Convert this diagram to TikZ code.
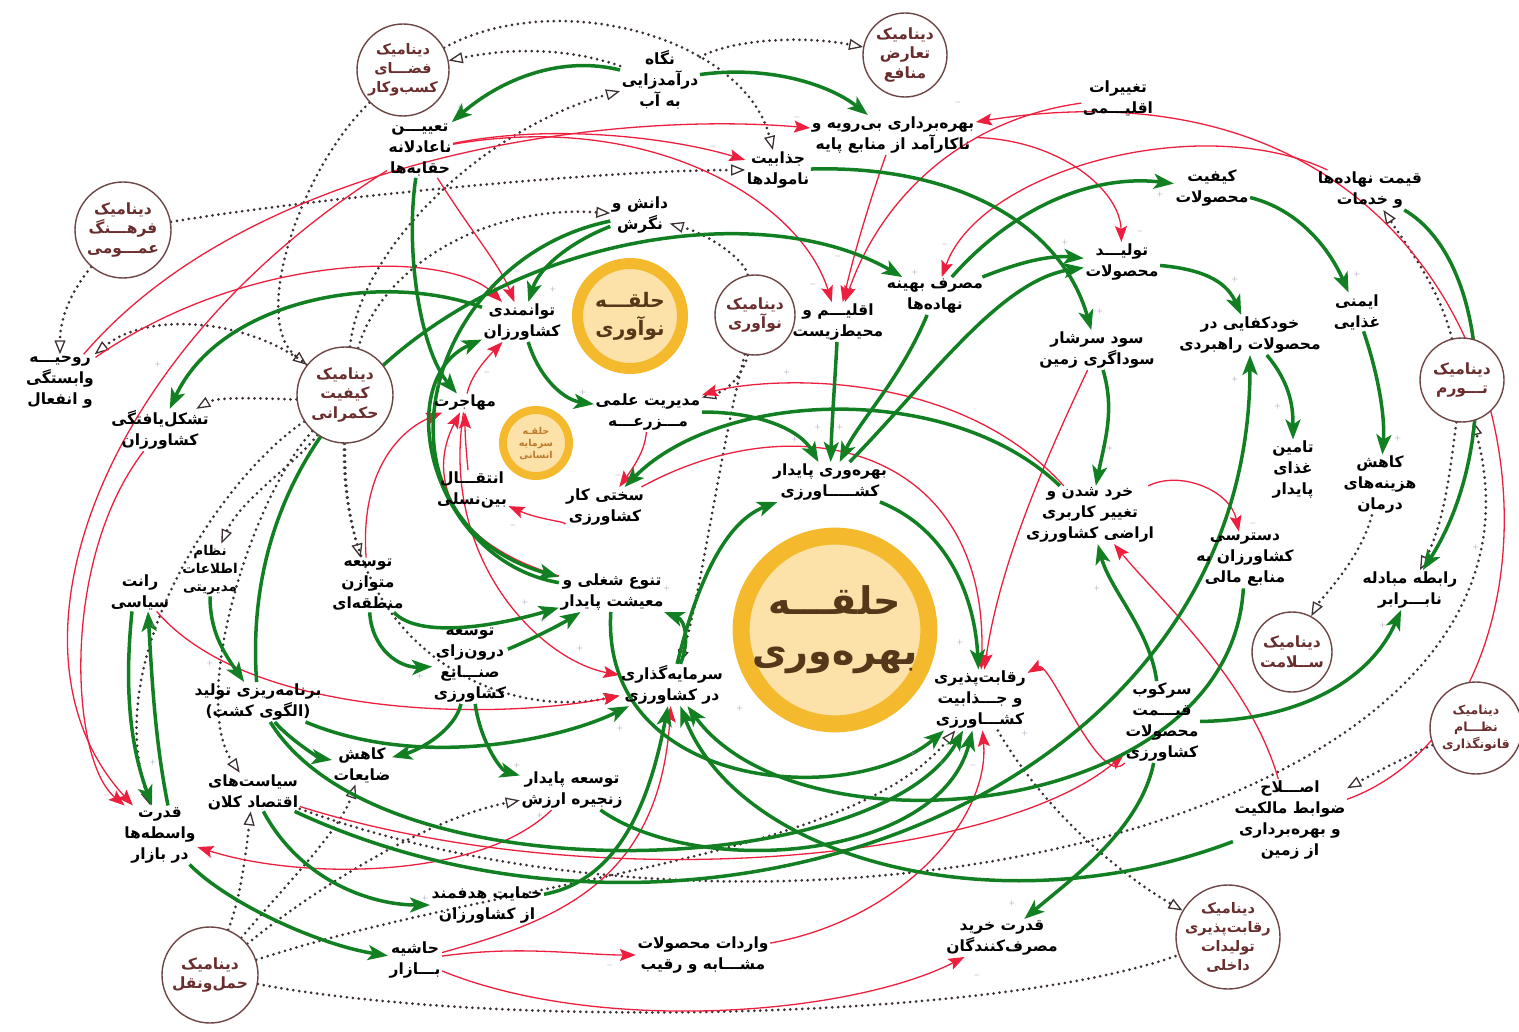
\documentclass[tikz,border=0pt]{standalone}
\usepackage{fontspec}
\usetikzlibrary{arrows.meta}
\TeXXeTstate=1
\newfontfamily\fa[Script=Arabic]{DejaVu Sans}
\newcommand\fl[1]{\beginR #1\endR}
\definecolor{grn}{RGB}{18,128,34}
\definecolor{rdc}{RGB}{236,32,62}
\definecolor{dotc}{RGB}{60,48,48}
\definecolor{dynb}{RGB}{110,70,70}
\definecolor{dyntext}{RGB}{105,45,45}
\definecolor{ringc}{RGB}{245,185,45}
\definecolor{ringf}{RGB}{252,226,168}
\definecolor{ringt}{RGB}{85,55,25}
\definecolor{ringt2}{RGB}{190,120,40}
\definecolor{pmc}{RGB}{140,140,165}
\pgfdeclarelayer{bg}
\pgfsetlayers{bg,main}
\tikzset{
  v/.style={font=\fa\bfseries\fontsize{15.5}{21}\selectfont, align=center, inner sep=1.5pt, text=black},
  dyn/.style={circle, draw=dynb, line width=1.4pt, fill=white, align=center, inner sep=-3pt,
    font=\fa\bfseries\fontsize{15.5}{19.5}\selectfont, text=dyntext},
  ring/.style={circle, draw=ringc, fill=ringf, align=center, inner sep=0pt, text=ringt},
  pm/.style={font=\fontsize{8}{8}\selectfont, text=pmc, inner sep=0pt},
  gr/.style={draw=grn, line width=3.5pt, -{Stealth[length=20pt,width=15pt,inset=5pt]}},
  rd/.style={draw=rdc, line width=1.3pt, -{Stealth[length=16pt,width=12pt,inset=3pt]}},
  dt/.style={draw=dotc, line width=3pt, dash pattern=on 0pt off 6pt, line cap=round,
    -{Triangle[open,length=14pt,width=11pt,line width=1.3pt]}}
}
\begin{document}
\begin{tikzpicture}[x=1pt,y=-1pt]
\useasboundingbox (0,0) rectangle (1519,1032);
% ---------- rings
\node[ring, minimum size=105pt, line width=11pt, font=\fa\bfseries\fontsize{20}{28}\selectfont] (r1) at (630,316) {\fl{حلقـــه}\\\fl{نوآوری}};
\node[ring, minimum size=66pt, line width=8pt, font=\fa\bfseries\fontsize{9.5}{12}\selectfont, text=ringt2] (r2) at (536,443) {\fl{حلقـه}\\\fl{سرمایه}\\\fl{انسانی}};
\node[ring, minimum size=183pt, line width=17pt, font=\fa\bfseries\fontsize{38}{50}\selectfont] (r3) at (835,630) {\fl{حلقـــه}\\\fl{بهره‌وری}};
% ---------- dynamics
\node[dyn, minimum size=92pt, font=\fa\bfseries\fontsize{14.5}{19}\selectfont] (d1) at (403,70) {\fl{دینامیک}\\\fl{فضـــای}\\\fl{کسب‌وکار}};
\node[dyn, minimum size=84pt] (d2) at (905,55) {\fl{دینامیک}\\\fl{تعارض}\\\fl{منافع}};
\node[dyn, minimum size=96pt] (d3) at (123,230) {\fl{دینامیک}\\\fl{فرهـــنگ}\\\fl{عمـــومی}};
\node[dyn, minimum size=80pt] (d4) at (755,315) {\fl{دینامیک}\\\fl{نوآوری}};
\node[dyn, minimum size=96pt] (d5) at (345,395) {\fl{دینامیک}\\\fl{کیفیت}\\\fl{حکمرانی}};
\node[dyn, minimum size=84pt] (d6) at (1462,380) {\fl{دینامیک}\\\fl{تـــورم}};
\node[dyn, minimum size=80pt] (d7) at (1292,652) {\fl{دینامیک}\\\fl{ســلامت}};
\node[dyn, minimum size=92pt, font=\fa\bfseries\fontsize{12.5}{17}\selectfont] (d8) at (1476,728) {\fl{دینامیک}\\\fl{نظـــام}\\\fl{قانونگذاری}};
\node[dyn, minimum size=104pt, font=\fa\bfseries\fontsize{14.5}{19}\selectfont] (d9) at (1228,937) {\fl{دینامیک}\\\fl{رقابت‌پذیری}\\\fl{تولیدات}\\\fl{داخلی}};
\node[dyn, minimum size=96pt] (d10) at (210,975) {\fl{دینامیک}\\\fl{حمل‌ونقل}};
% ---------- variables
\node[v] (nagah) at (660,80) {\fl{نگاه}\\\fl{درآمدزایی}\\\fl{به آب}};
\node[v] (taeen) at (420,150) {\fl{تعییـــن}\\\fl{ناعادلانه}\\\fl{حقابه‌ها}};
\node[v] (bahre) at (893,135) {\fl{بهره‌برداری بی‌رویه و}\\\fl{ناکارآمد از منابع پایه}};
\node[v] (taghir) at (1118,98) {\fl{تغییرات}\\\fl{اقلیـــمی}};
\node[v] (jazab) at (778,170) {\fl{جذابیت}\\\fl{نامولدها}};
\node[v] (keyf) at (1212,188) {\fl{کیفیت}\\\fl{محصولات}};
\node[v] (gheim) at (1370,190) {\fl{قیمت نهاده‌ها}\\\fl{و خدمات}};
\node[v] (danesh) at (640,215) {\fl{دانش و}\\\fl{نگرش}};
\node[v] (tolid) at (1122,262) {\fl{تولیـــد}\\\fl{محصولات}};
\node[v] (masraf) at (935,296) {\fl{مصرف بهینه}\\\fl{نهاده‌ها}};
\node[v] (eghlim) at (838,322) {\fl{اقلیـــم و}\\\fl{محیط‌زیست}};
\node[v] (tavan) at (522,322) {\fl{توانمندی}\\\fl{کشاورزان}};
\node[v] (imeni) at (1357,312) {\fl{ایمنی}\\\fl{غذایی}};
\node[v] (khod) at (1250,335) {\fl{خودکفایی در}\\\fl{محصولات راهبردی}};
\node[v] (sood) at (1097,350) {\fl{سود سرشار}\\\fl{سوداگری زمین}};
\node[v] (roohie) at (60,382) {\fl{روحیـــه}\\\fl{وابستگی}\\\fl{و انفعال}};
\node[v] (mohaj) at (465,403) {\fl{مهاجرت}};
\node[v] (modir) at (648,412) {\fl{مدیریت علمی}\\\fl{مـــزرعـــه}};
\node[v] (tashak) at (160,430) {\fl{تشکل‌یافتگی}\\\fl{کشاورزان}};
\node[v] (bahrev) at (830,482) {\fl{بهره‌وری پایدار}\\\fl{کشـــــاورزی}};
\node[v] (entegh) at (472,490) {\fl{انتقـــال}\\\fl{بین‌نسلی}};
\node[v] (sakhti) at (605,507) {\fl{سختی کار}\\\fl{کشاورزی}};
\node[v] (khord) at (1090,515) {\fl{خرد شدن و}\\\fl{تغییر کاربری}\\\fl{اراضی کشاورزی}};
\node[v] (tamin) at (1293,470) {\fl{تامین}\\\fl{غذای}\\\fl{پایدار}};
\node[v] (darman) at (1380,485) {\fl{کاهش}\\\fl{هزینه‌های}\\\fl{درمان}};
\node[v] (dastr) at (1245,560) {\fl{دسترسی}\\\fl{کشاورزان به}\\\fl{منابع مالی}};
\node[v] (rabete) at (1410,590) {\fl{رابطه مبادله}\\\fl{نابـــرابر}};
\node[v, font=\fa\bfseries\fontsize{13.5}{18}\selectfont] (nezam) at (210,570) {\fl{نظام}\\\fl{اطلاعات}\\\fl{مدیریتی}};
\node[v] (rant) at (140,592) {\fl{رانت}\\\fl{سیاسی}};
\node[v] (motav) at (368,585) {\fl{توسعه}\\\fl{متوازن}\\\fl{منطقه‌ای}};
\node[v] (tanavo) at (612,592) {\fl{تنوع شغلی و}\\\fl{معیشت پایدار}};
\node[v] (daroon) at (470,665) {\fl{توسعه}\\\fl{درون‌زای}\\\fl{صنـــایع}\\\fl{کشاورزی}};
\node[v] (barname) at (258,702) {\fl{برنامه‌ریزی تولید}\\\fl{(الگوی کشت)}};
\node[v] (sarmaye) at (672,685) {\fl{سرمایه‌گذاری}\\\fl{در کشاورزی}};
\node[v] (reghab) at (980,700) {\fl{رقابت‌پذیری}\\\fl{و جـــذابیت}\\\fl{کشـــاورزی}};
\node[v] (sarkoob) at (1162,722) {\fl{سرکوب}\\\fl{قیـــمت}\\\fl{محصولات}\\\fl{کشاورزی}};
\node[v] (zayeat) at (362,765) {\fl{کاهش}\\\fl{ضایعات}};
\node[v] (siasat) at (253,792) {\fl{سیاست‌های}\\\fl{اقتصاد کلان}};
\node[v] (zanjire) at (572,790) {\fl{توسعه پایدار}\\\fl{زنجیره ارزش}};
\node[v] (vaseteh) at (160,835) {\fl{قدرت}\\\fl{واسطه‌ها}\\\fl{در بازار}};
\node[v] (eslah) at (1290,820) {\fl{اصـــلاح}\\\fl{ضوابط مالکیت}\\\fl{و بهره‌برداری}\\\fl{از زمین}};
\node[v] (hemayat) at (487,905) {\fl{حمایت هدفمند}\\\fl{از کشاورزان}};
\node[v] (varedat) at (703,955) {\fl{واردات محصولات}\\\fl{مشـــابه و رقیب}};
\node[v] (kharid) at (1002,938) {\fl{قدرت خرید}\\\fl{مصرف‌کنندگان}};
\node[v] (hashie) at (415,960) {\fl{حاشیه}\\\fl{بـــازار}};
% ---------- polarity signs
\foreach \px/\py/\s [count=\i] in {
  460/108/+, 713/147/-, 858/105/-, 797/118/-, 958/103/-, 838/257/-, 868/257/-, 813/285/-,
  945/245/-, 915/273/+, 1065/243/+, 1140/232/-, 1100/312/+, 1160/195/+, 1235/280/+, 1357/275/+,
  158/365/+, 153/625/+, 210/663/+, 487/372/-, 438/385/+, 467/430/-, 448/447/-, 583/393/+,
  618/475/-, 513/525/-, 525/602/+, 543/620/+, 667/588/+, 580/648/+, 787/372/+, 818/427/+,
  840/427/+, 795/440/+, 1110/448/+, 960/642/+, 1138/568/-, 1097/588/+, 1235/380/+, 1278/407/+,
  1398/438/+, 1253/523/-, 1476/547/+, 1383/625/+, 107/795/-, 153/762/+, 210/857/-, 420/676/+,
  620/728/+, 667/750/-, 740/708/+, 517/765/+, 540/815/+, 425/898/+, 610/965/-, 913/753/+,
  942/763/+, 973/765/-, 1025/733/+, 1012/903/+, 977/975/-, 553/290/+, 517/272/-}
  \node[pm] (pm\i) at (\px,\py) {$\s$};
\begin{pgfonlayer}{bg}
% ---------- dotted links
\draw[dt] (d1) .. controls (560,-15) and (745,40) .. (jazab);
\draw[dt] (nagah) .. controls (560,45) and (500,50) .. (d1);
\draw[dt] (nagah) .. controls (730,40) and (800,35) .. (d2);
\draw[dt] (d5) .. controls (360,250) and (480,130) .. (nagah);
\draw[dt] (d3) .. controls (300,200) and (600,170) .. (jazab);
\draw[dt] (d5) .. controls (380,270) and (480,205) .. (danesh);
\draw[dt] (d4) .. controls (745,260) and (710,235) .. (danesh);
\draw[dt] (d4) .. controls (745,370) and (730,390) .. (modir);
\draw[dt] (d4) .. controls (720,450) and (700,600) .. (sarmaye);
\draw[dt] (d3) .. controls (80,280) and (60,310) .. (roohie);
\draw[dt] (d5) .. controls (250,320) and (150,310) .. (roohie);
\draw[dt] (d1) .. controls (300,170) and (250,320) .. (d5);
\draw[dt] (d5) .. controls (290,400) and (220,395) .. (tashak);
\draw[dt] (d5) .. controls (345,470) and (345,500) .. (motav);
\draw[dt] (d5) .. controls (300,460) and (240,500) .. (nezam);
\draw[dt] (d5) .. controls (250,500) and (190,700) .. (siasat);
\draw[dt] (d5) .. controls (230,470) and (100,650) .. (vaseteh);
\draw[dt] (d5) .. controls (340,650) and (500,720) .. (sarmaye);
\draw[dt] (d6) .. controls (1450,470) and (1445,520) .. (rabete);
\draw[dt] (d6) .. controls (1440,290) and (1410,250) .. (gheim);
\draw[dt] (darman) .. controls (1360,560) and (1320,600) .. (d7);
\draw[dt] (siasat) .. controls (800,990) and (1580,820) .. (d6);
\draw[dt] (d8) .. controls (1420,750) and (1380,770) .. (eslah);
\draw[dt] (reghab) .. controls (1050,820) and (1130,880) .. (d9);
\draw[dt,-] (d10) .. controls (500,1030) and (1000,1020) .. (d9);
\draw[dt] (d10) .. controls (240,900) and (245,860) .. (siasat);
\draw[dt] (d10) .. controls (290,880) and (340,830) .. (zayeat);
\draw[dt] (d10) .. controls (300,900) and (420,820) .. (zanjire);
\draw[dt] (d10) .. controls (500,880) and (850,860) .. (reghab);
% ---------- red links
\draw[rd] (taeen) .. controls (560,122) and (680,140) .. (jazab);
\draw[rd] (taeen) .. controls (650,110) and (800,200) .. (eghlim);
\draw[rd] (roohie) .. controls (250,160) and (600,110) .. (bahre);
\draw[rd] (roohie) .. controls (250,250) and (450,250) .. (tavan);
\draw[rd] (taeen) .. controls (470,230) and (500,265) .. (tavan);
\draw[rd] (bahre) .. controls (870,200) and (855,250) .. (eghlim);
\draw[rd] (taghir) .. controls (960,120) and (880,200) .. (eghlim);
\draw[rd] (gheim) .. controls (1200,110) and (980,170) .. (masraf);
\draw[rd] (eslah) .. controls (1620,700) and (1560,30) .. (bahre);
\draw[rd] (bahre) .. controls (1060,140) and (1120,190) .. (tolid);
\draw[rd] (entegh) .. controls (468,470) and (465,440) .. (mohaj);
\draw[rd] (mohaj) .. controls (470,380) and (480,365) .. (tavan);
\draw[rd] (sakhti) .. controls (570,522) and (540,520) .. (entegh);
\draw[rd] (modir) .. controls (645,450) and (635,465) .. (sakhti);
\draw[rd] (khord) .. controls (950,360) and (750,380) .. (modir);
\draw[rd] (sakhti) .. controls (800,400) and (990,450) .. (reghab);
\draw[rd] (sood) .. controls (1050,450) and (1000,560) .. (reghab);
\draw[rd] (khord) .. controls (1180,470) and (1230,490) .. (dastr);
\draw[rd] (sarkoob) .. controls (1100,790) and (1050,660) .. (reghab);
\draw[rd] (eslah) .. controls (1250,680) and (1160,600) .. (khord);
\draw[rd] (hashie) .. controls (520,945) and (580,955) .. (varedat);
\draw[rd] (hashie) .. controls (600,1035) and (850,1015) .. (kharid);
\draw[rd] (hashie) .. controls (560,920) and (660,880) .. (sarmaye);
\draw[rd] (varedat) .. controls (900,920) and (990,820) .. (reghab);
\draw[rd] (zanjire) .. controls (480,880) and (300,880) .. (vaseteh);
\draw[rd] (tashak) .. controls (60,560) and (70,760) .. (vaseteh);
\draw[rd] (taeen) .. controls (100,350) and (-10,650) .. (vaseteh);
\draw[rd] (tanavo) .. controls (440,540) and (430,470) .. (mohaj);
\draw[rd] (mohaj) .. controls (440,560) and (540,660) .. (sarmaye);
\draw[rd] (motav) .. controls (360,470) and (400,430) .. (mohaj);
\draw[rd] (siasat) .. controls (600,900) and (1000,860) .. (sarkoob);
\draw[rd] (rant) .. controls (250,720) and (500,720) .. (sarmaye);
% ---------- green links
\draw[gr] (nagah) .. controls (560,55) and (500,80) .. (taeen);
\draw[gr] (nagah) .. controls (770,65) and (830,85) .. (bahre);
\draw[gr] (danesh) .. controls (575,240) and (540,265) .. (tavan);
\draw[gr] (danesh) .. controls (420,260) and (360,520) .. (tanavo);
\draw[gr] (taeen) .. controls (405,250) and (420,350) .. (mohaj);
\draw[gr] (tavan) .. controls (380,270) and (220,300) .. (tashak);
\draw[gr] (tavan) .. controls (540,380) and (565,400) .. (modir);
\draw[gr] (tanavo) .. controls (430,560) and (390,380) .. (tavan);
\draw[gr] (jazab) .. controls (950,165) and (1060,220) .. (sood);
\draw[gr] (barname) .. controls (230,300) and (700,160) .. (masraf);
\draw[gr] (masraf) .. controls (1020,262) and (1050,255) .. (tolid);
\draw[gr] (masraf) .. controls (1020,200) and (1100,175) .. (keyf);
\draw[gr] (bahrev) .. controls (930,380) and (1000,280) .. (tolid);
\draw[gr] (tolid) .. controls (1210,270) and (1228,285) .. (khod);
\draw[gr] (keyf) .. controls (1300,210) and (1330,250) .. (imeni);
\draw[gr] (khod) .. controls (1292,385) and (1293,410) .. (tamin);
\draw[gr] (imeni) .. controls (1380,380) and (1385,420) .. (darman);
\draw[gr] (gheim) .. controls (1490,260) and (1500,450) .. (rabete);
\draw[gr] (sood) .. controls (1115,410) and (1105,440) .. (khord);
\draw[gr] (eghlim) .. controls (835,380) and (832,420) .. (bahrev);
\draw[gr] (masraf) .. controls (900,380) and (860,420) .. (bahrev);
\draw[gr] (modir) .. controls (760,412) and (800,430) .. (bahrev);
\draw[gr] (khord) .. controls (950,380) and (720,390) .. (sakhti);
\draw[gr] (bahrev) .. controls (950,530) and (975,600) .. (reghab);
\draw[gr] (sarmaye) .. controls (700,570) and (730,520) .. (bahrev);
\draw[gr] (sarmaye) .. controls (690,640) and (685,620) .. (tanavo);
\draw[gr] (motav) .. controls (420,640) and (500,625) .. (tanavo);
\draw[gr] (motav) .. controls (372,650) and (400,668) .. (daroon);
\draw[gr] (daroon) .. controls (530,640) and (560,625) .. (tanavo);
\draw[gr] (daroon) .. controls (455,730) and (420,750) .. (zayeat);
\draw[gr] (daroon) .. controls (480,740) and (500,770) .. (zanjire);
\draw[gr] (nezam) .. controls (210,630) and (222,650) .. (barname);
\draw[gr] (barname) .. controls (290,740) and (320,758) .. (zayeat);
\draw[gr] (barname) .. controls (420,770) and (560,740) .. (sarmaye);
\draw[gr] ([xshift=-8pt]rant.south) .. controls (125,680) and (128,740) .. ([xshift=-8pt]vaseteh.north);
\draw[gr] ([xshift=8pt]vaseteh.north) .. controls (155,740) and (152,680) .. ([xshift=8pt]rant.south);
\draw[gr] (vaseteh) .. controls (230,905) and (320,945) .. (hashie);
\draw[gr] (siasat) .. controls (300,880) and (370,905) .. (hemayat);
\draw[gr] (hemayat) .. controls (620,880) and (650,800) .. (sarmaye);
\draw[gr] (sarkoob) .. controls (1300,720) and (1370,680) .. (rabete);
\draw[gr] (sarkoob) .. controls (1140,830) and (1070,880) .. (kharid);
\draw[gr] (sarkoob) .. controls (1150,630) and (1110,590) .. (khord);
\draw[gr] (eslah) .. controls (1000,930) and (740,860) .. (sarmaye);
\draw[gr] (siasat) .. controls (700,1000) and (1250,800) .. (khod);
\draw[gr] (dastr) .. controls (1230,820) and (800,860) .. (sarmaye);
\draw[gr] (tanavo) .. controls (600,790) and (850,810) .. (reghab);
\draw[gr] (barname) .. controls (380,900) and (880,880) .. (reghab);
\draw[gr] (zanjire) .. controls (700,880) and (940,860) .. (reghab);
\end{pgfonlayer}
\end{tikzpicture}
\end{document}
